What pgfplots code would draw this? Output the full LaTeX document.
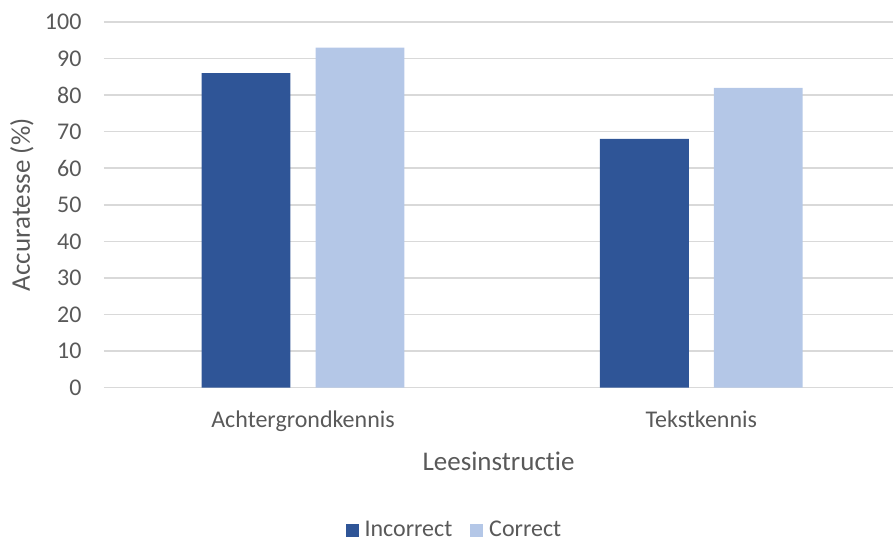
\documentclass[border=0pt]{standalone}
\usepackage{pgfplots}
\pgfplotsset{compat=1.18}
\usepackage{fontspec}
\setmainfont{Carlito}[Ligatures=NoCommon]
\definecolor{darkb}{HTML}{2F5597}
\definecolor{lightb}{HTML}{B4C7E7}
\definecolor{gridc}{HTML}{D9D9D9}
\definecolor{txt}{HTML}{595959}
\begin{document}
\begin{tikzpicture}[x=1bp,y=1bp]
\path (0,0) rectangle (894,540);
\begin{axis}[
  at={(104bp,152bp)}, anchor=south west,
  scale only axis, width=790bp, height=366bp,
  ymin=0, ymax=100, ytick={0,10,...,100},
  xmin=-0.5, xmax=1.482, xtick={0,1},
  xticklabels={Achtergrondkennis,Tekstkennis},
  ybar, bar width=0.223,
  axis line style={draw=none},
  tick style={draw=none},
  ymajorgrids, grid style={gridc, line width=1.5bp},
  ticklabel style={font=\fontsize{24bp}{26bp}\selectfont, text=txt},
  /pgf/number format/assume math mode=true,
  yticklabel style={xshift=-19bp},
  xticklabel style={yshift=-15bp},
  xlabel={Leesinstructie},
  ylabel={Accuratesse (\%)},
  label style={font=\fontsize{27bp}{29bp}\selectfont, text=txt},
  xlabel style={at={(axis description cs:0.5,-0.202)}, anchor=center},
  ylabel style={at={(axis description cs:-0.104,0.5)}, anchor=center},
  legend style={at={(axis description cs:0.444,-0.388)}, anchor=center, draw=none,
    font=\fontsize{24bp}{26bp}\selectfont, text=txt, legend columns=2,
    /tikz/every even column/.append style={column sep=16bp}},
  legend image code/.code={\fill[#1] (0bp,-7bp) rectangle (13bp,6bp); \path (17bp,0bp);},
]
\addplot[fill=darkb, draw=none, bar shift=-0.143] coordinates {(0,86) (1,68)};
\addplot[fill=lightb, draw=none, bar shift=0.143] coordinates {(0,93) (1,82)};
\legend{Incorrect,Correct}
\end{axis}
\end{tikzpicture}
\end{document}
